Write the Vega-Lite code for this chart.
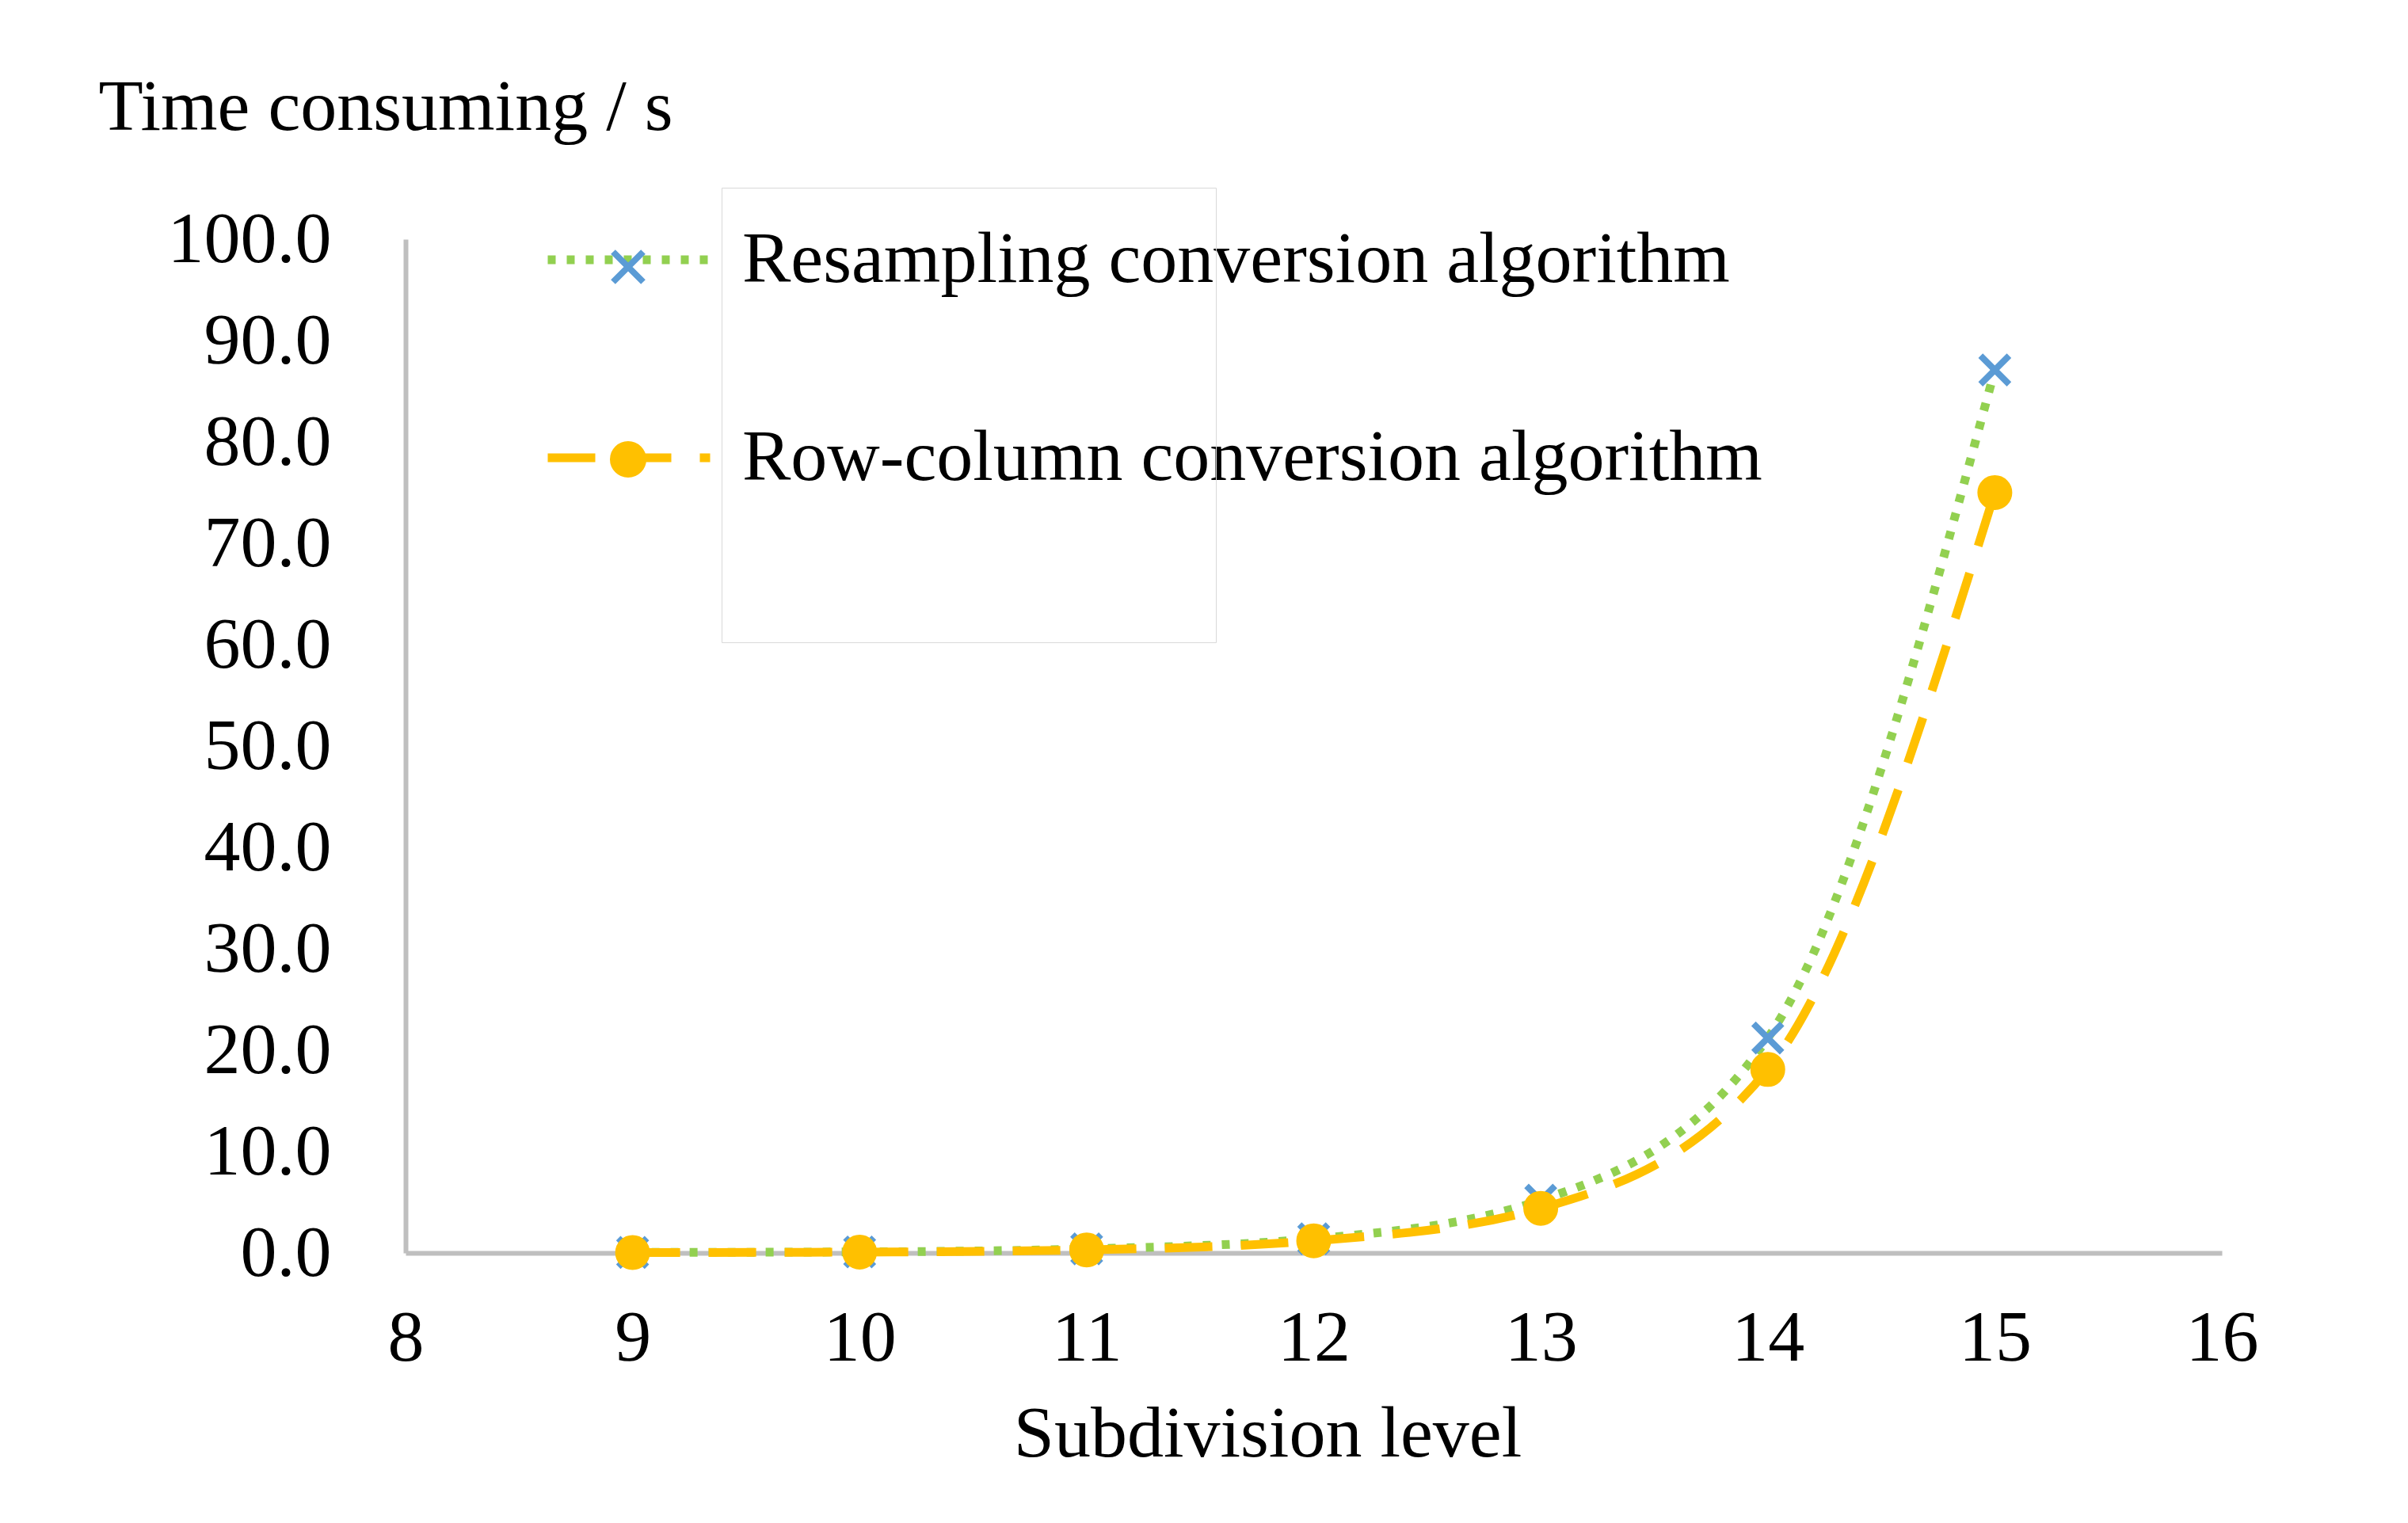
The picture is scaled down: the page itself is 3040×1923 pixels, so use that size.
{
  "$schema": "https://vega.github.io/schema/vega-lite/v6.json",
  "width": 2293,
  "height": 1280,
  "autosize": {"type": "none"},
  "padding": {"left": 512, "top": 302, "right": 235, "bottom": 341},
  "background": "white",
  "config": {
    "view": {"stroke": null},
    "font": "Liberation Serif",
    "axis": {
      "domainColor": "#BFBFBF",
      "domainWidth": 6,
      "ticks": false,
      "tickSize": 0,
      "grid": false,
      "labelFont": "Liberation Serif",
      "labelFontSize": 92,
      "labelColor": "#000000",
      "labelLimit": 500,
      "labelFlush": false,
      "labelOverlap": false,
      "titleFont": "Liberation Serif",
      "titleFontSize": 92,
      "titleFontWeight": "normal",
      "titleColor": "#000000"
    },
    "legend": {
      "labelFont": "Liberation Serif",
      "labelColor": "#000000"
    }
  },
  "data": {
    "values": [
      {"level": 9, "time": 0.05, "series": "Resampling conversion algorithm"},
      {"level": 10, "time": 0.1, "series": "Resampling conversion algorithm"},
      {"level": 11, "time": 0.4, "series": "Resampling conversion algorithm"},
      {"level": 12, "time": 1.4, "series": "Resampling conversion algorithm"},
      {"level": 13, "time": 5.2, "series": "Resampling conversion algorithm"},
      {"level": 14, "time": 21.2, "series": "Resampling conversion algorithm"},
      {"level": 15, "time": 87.1, "series": "Resampling conversion algorithm"},
      {"level": 9, "time": 0.04, "series": "Row-column conversion algorithm"},
      {"level": 10, "time": 0.08, "series": "Row-column conversion algorithm"},
      {"level": 11, "time": 0.3, "series": "Row-column conversion algorithm"},
      {"level": 12, "time": 1.2, "series": "Row-column conversion algorithm"},
      {"level": 13, "time": 4.4, "series": "Row-column conversion algorithm"},
      {"level": 14, "time": 18.1, "series": "Row-column conversion algorithm"},
      {"level": 15, "time": 75.0, "series": "Row-column conversion algorithm"}
    ]
  },
  "resolve": {
    "scale": {"color": "independent", "opacity": "independent", "fill": "independent", "stroke": "independent", "shape": "independent", "strokeDash": "independent"},
    "legend": {"color": "independent", "opacity": "independent", "fill": "independent", "stroke": "independent", "shape": "independent", "strokeDash": "independent"}
  },
  "layer": [
    {
      "mark": {"type": "line", "interpolate": "monotone", "strokeWidth": 11},
      "encoding": {
        "x": {
          "field": "level", "type": "quantitative",
          "scale": {"domain": [8, 16], "nice": false, "zero": false},
          "axis": {
            "values": [8, 9, 10, 11, 12, 13, 14, 15, 16],
            "format": "d",
            "labelPadding": 62,
            "title": "Subdivision level",
            "titleX": 1088,
            "titleY": 256,
            "titleAlign": "center",
            "titleBaseline": "alphabetic",
            "titleAnchor": null
          }
        },
        "y": {
          "field": "time", "type": "quantitative",
          "scale": {"domain": [0, 100], "nice": false},
          "axis": {
            "values": [0, 10, 20, 30, 40, 50, 60, 70, 80, 90, 100],
            "format": ".1f",
            "labelPadding": 94,
            "title": "Time consuming / s",
            "titleAngle": 0,
            "titleAlign": "left",
            "titleBaseline": "alphabetic",
            "titleX": -388,
            "titleY": -139,
            "titleAnchor": null
          }
        },
        "color": {
          "field": "series", "type": "nominal",
          "scale": {"range": ["#92D050", "#FFC000"]},
          "legend": {
            "title": null,
            "orient": "none",
            "legendX": 174,
            "legendY": -82,
            "padding": 0,
            "symbolSize": 42025,
            "symbolStrokeWidth": 11,
            "labelFontSize": 92,
            "labelOffset": 35,
            "labelLimit": 3000,
            "rowPadding": 96
          }
        },
        "strokeDash": {
          "field": "series", "type": "nominal",
          "scale": {"range": [[10, 14], [60, 36]]},
          "legend": {
            "title": null,
            "orient": "none",
            "legendX": 174,
            "legendY": -82,
            "padding": 0,
            "symbolSize": 42025,
            "symbolStrokeWidth": 11,
            "labelFontSize": 92,
            "labelOffset": 35,
            "labelLimit": 3000,
            "rowPadding": 96
          }
        }
      }
    },
    {
      "mark": {"type": "point", "filled": true, "size": 1296, "strokeWidth": 8, "opacity": 1},
      "encoding": {
        "x": {"field": "level", "type": "quantitative"},
        "y": {"field": "time", "type": "quantitative"},
        "fill": {
          "field": "series", "type": "nominal",
          "scale": {"range": ["#5B9BD5", "#FFC000"]},
          "legend": {
            "title": null,
            "orient": "none",
            "legendX": 236,
            "legendY": -10,
            "padding": 0,
            "symbolSize": 1444,
            "symbolStrokeWidth": 8,
            "labelFontSize": 90,
            "labelOpacity": 0,
            "labelLimit": 3000,
            "rowPadding": 153
          }
        },
        "stroke": {
          "field": "series", "type": "nominal",
          "scale": {"range": ["#5B9BD5", "#FFC000"]},
          "legend": {
            "title": null,
            "orient": "none",
            "legendX": 236,
            "legendY": -10,
            "padding": 0,
            "symbolSize": 1444,
            "symbolStrokeWidth": 8,
            "labelFontSize": 90,
            "labelOpacity": 0,
            "labelLimit": 3000,
            "rowPadding": 153
          }
        },
        "shape": {
          "field": "series", "type": "nominal",
          "scale": {"range": ["M-1,-1L1,1M-1,1L1,-1", "circle"]},
          "legend": {
            "title": null,
            "orient": "none",
            "legendX": 236,
            "legendY": -10,
            "padding": 0,
            "symbolSize": 1444,
            "symbolStrokeWidth": 8,
            "labelFontSize": 90,
            "labelOpacity": 0,
            "labelLimit": 3000,
            "rowPadding": 153
          }
        },
        "opacity": {
          "field": "series", "type": "nominal",
          "scale": {"domain": ["Resampling conversion algorithm", "Row-column conversion algorithm"], "range": [1, 1]},
          "legend": {
            "title": null,
            "orient": "none",
            "legendX": 399,
            "legendY": -65,
            "padding": 0,
            "strokeColor": "#D9D9D9",
            "symbolSize": 0,
            "symbolStrokeWidth": 0,
            "symbolFillColor": "transparent",
            "symbolStrokeColor": "transparent",
            "labelFontSize": 10,
            "labelOpacity": 0,
            "labelOffset": 604,
            "labelLimit": 15,
            "rowPadding": 554
          }
        }
      }
    }
  ]
}
